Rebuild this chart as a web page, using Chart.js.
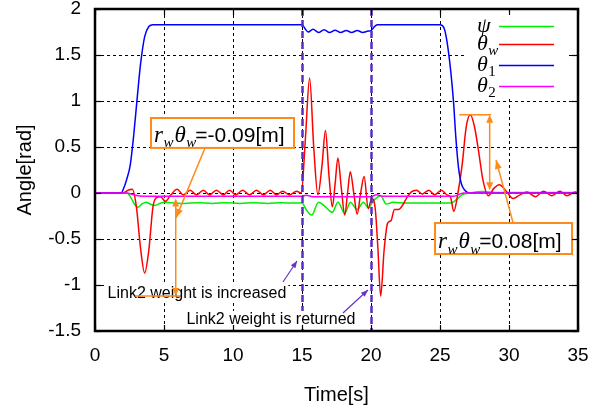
<!DOCTYPE html>
<html>
<head>
<meta charset="utf-8">
<title>Angle response</title>
<script src="https://cdn.jsdelivr.net/npm/chart.js@4.4.1/dist/chart.umd.min.js"></script>
<style>
  html, body { margin: 0; padding: 0; background: #ffffff; }
  canvas { display: block; }
</style>
</head>
<body>
<canvas id="angles" width="609" height="407"></canvas>
<script>
// ---- measured series (time in s, angle in rad) ----
const tPsi = [0, 2.3, 2.6, 2.9, 3.1, 3.4, 3.7, 4.0, 4.3, 4.7,
  5.0, 5.5, 6.5, 7.5, 8.5, 9.5, 10.5, 11.5, 12.5, 13.5,
  14.5, 15.0, 15.3, 15.7, 16.2, 16.7, 17.2, 17.6, 18.1, 18.5,
  19.0, 19.45, 19.8, 20.2, 20.7, 21.1, 21.6, 22.5, 25.8, 26.2,
  26.6, 27.2, 28.1, 29.0, 35];
const psi = [0, 0, -0.05, -0.13, -0.155, -0.12, -0.1, -0.12, -0.135, -0.115,
  -0.1, -0.105, -0.115, -0.105, -0.115, -0.105, -0.115, -0.105, -0.115, -0.105,
  -0.11, -0.11, -0.18, -0.24, -0.1, -0.15, -0.21, -0.1, -0.22, -0.1,
  -0.18, -0.1, -0.16, -0.08, -0.03, -0.12, -0.1, -0.11, -0.11, -0.07,
  -0.02, 0.0, 0.015, 0.005, 0.005];

const tThetaW = [0, 2.0, 2.4, 2.7, 3.0, 3.3, 3.6, 3.9, 4.2, 4.45,
  4.75, 5.1, 5.5, 5.95, 6.4, 6.9, 7.35, 7.85, 8.3, 8.8,
  9.3, 9.75, 10.2, 10.7, 11.2, 11.7, 12.2, 12.7, 13.15, 13.6,
  14.1, 14.6, 14.95, 15.25, 15.55, 15.85, 16.15, 16.45, 16.7, 16.95,
  17.2, 17.4, 17.6, 17.85, 18.1, 18.3, 18.5, 18.75, 19.0, 19.25,
  19.5, 19.8, 20.05, 20.3, 20.5, 20.7, 20.95, 21.2, 21.45, 21.7,
  22.0, 22.3, 22.6, 22.9, 23.3, 23.7, 24.2, 24.6, 25.1, 25.5,
  25.75, 26.0, 26.3, 26.6, 26.9, 27.2, 27.5, 27.8, 28.1, 28.5,
  28.9, 29.3, 29.8, 30.3, 30.8, 31.3, 31.9, 32.5, 33.1, 33.7,
  34.2, 34.8, 35];
const thetaW = [0, 0, 0.03, 0.04, -0.15, -0.6, -0.87, -0.62, -0.15, -0.05,
  -0.04, -0.09, -0.02, 0.04, -0.02, 0.03, -0.02, 0.03, -0.02, 0.03,
  -0.02, 0.03, -0.02, 0.03, -0.02, 0.03, -0.02, 0.03, -0.02, 0.02,
  -0.02, 0.02, 0.0, 0.6, 1.25, 0.5, -0.02, 0.3, 0.68, 0.2,
  -0.15, 0.1, 0.38, 0.05, -0.24, 0.0, 0.23, 0.0, -0.23, 0.0,
  0.18, -0.17, -0.06, -0.16, -0.6, -1.12, -0.62, -0.33, -0.3, -0.18,
  -0.18, -0.13, -0.05, 0.01, 0.03, -0.01, 0.03, -0.02, 0.03, -0.02,
  -0.04, -0.2, 0.0, 0.3, 0.72, 0.85, 0.72, 0.45, 0.15, -0.03,
  0.05, 0.09, 0.02, -0.06, -0.02, 0.01, -0.04, 0.02, -0.03, 0.02,
  -0.03, 0.01, 0.0];

const tTheta1 = [0, 1.9, 2.05, 2.3, 2.55, 2.8, 3.05, 3.3, 3.6, 3.9,
  4.2, 15.0, 15.2, 15.45, 15.8, 16.2, 16.6, 17.0, 17.4, 17.8,
  18.2, 18.6, 19.0, 19.4, 19.8, 20.0, 20.2, 20.45, 25.0, 25.3,
  25.6, 25.97, 26.15, 26.33, 26.55, 26.8, 27.1, 35];
const theta1 = [0, 0, 0.04, 0.15, 0.3, 0.62, 1.02, 1.4, 1.7, 1.81,
  1.83, 1.83, 1.79, 1.75, 1.78, 1.745, 1.775, 1.745, 1.77, 1.745,
  1.765, 1.745, 1.765, 1.745, 1.76, 1.765, 1.8, 1.83, 1.83, 1.79,
  1.55, 1.01, 0.6, 0.29, 0.1, 0.03, 0.0, 0];

const tTheta2 = [0, 2.3, 2.8, 3.5, 15.0, 15.3, 15.8, 20.0, 20.4, 20.8, 26.0, 26.7, 35];
const theta2 = [0, 0, -0.02, -0.035, -0.035, -0.025, -0.04, -0.04, -0.02, -0.035, -0.035, 0, 0];

// ---- axes ----
const xTicks = [0, 5, 10, 15, 20, 25, 30, 35];
const xTickLabels = ['0', '5', '10', '15', '20', '25', '30', '35'];
const yTicks = [-1.5, -1, -0.5, 0, 0.5, 1, 1.5, 2];
const yTickLabels = ['-1.5', '-1', '-0.5', '0', '0.5', '1', '1.5', '2'];

// times at which the link-2 weight changes
const eventTimes = [15, 20];

const SANS = '"Liberation Sans", Arial, sans-serif';
const SERIF = '"Liberation Serif", "DejaVu Serif", serif';

const COLORS = {
  psi: '#00ee00', thetaW: '#ff0000', theta1: '#0000ff', theta2: '#ff00ff',
  event: '#5a2dc0', note: '#ff8a1c', pointer: '#6a32c8'
};

// legend: symbol + subscript, colour, row position
const legendItems = [
  { sym: '\u03C8', sub: '', color: COLORS.psi, y: 26 },
  { sym: '\u03B8', sub: 'w', color: COLORS.thetaW, y: 44 },
  { sym: '\u03B8', sub: '1', color: COLORS.theta1, y: 65 },
  { sym: '\u03B8', sub: '2', color: COLORS.theta2, y: 86 }
];

// wheel travel annotations: extreme of θw and the level it is measured from
const lateWindow = tThetaW.map((t, i) => (t > 25 ? thetaW[i] : -Infinity));
const notes = [
  { value: '=-0.09[m]', box: [4.06, 14.42, 0.815, 0.49], level: Math.min(...thetaW),
    span: [2.9, 6.2], gaugeT: 5.85, base: -0.06, leader: [7.97, 0.49, 5.87, -0.27] },
  { value: '=0.08[m]', box: [24.64, 34.57, -0.326, -0.663], level: Math.max(...lateWindow),
    span: [26.4, 28.7], gaugeT: 28.6, base: 0.03, leader: [30.3, -0.326, 29.06, 0.36] }
];

const eventNotes = [
  { text: 'Link2 weight is increased', at: [7.39, -1.098], from: [13.62, -0.967], to: [14.64, -0.739] },
  { text: 'Link2 weight is returned', at: [12.75, -1.38], from: [17.97, -1.304], to: [19.78, -1.054] }
];

function toPoints(ts, vs) { return ts.map((t, i) => ({ x: t, y: vs[i] })); }

function arrowHead(ctx, x1, y1, x2, y2, len, half) {
  const a = Math.atan2(y2 - y1, x2 - x1);
  const c = Math.cos(a), s = Math.sin(a);
  ctx.beginPath();
  ctx.moveTo(x2, y2);
  ctx.lineTo(x2 - len * c + half * s, y2 - len * s - half * c);
  ctx.lineTo(x2 - len * c - half * s, y2 - len * s + half * c);
  ctx.closePath();
  ctx.fill();
}

function segment(ctx, x1, y1, x2, y2) {
  ctx.beginPath();
  ctx.moveTo(x1, y1);
  ctx.lineTo(x2, y2);
  ctx.stroke();
}

// italic symbol with a subscript; returns the x where it ends
function drawSymbol(ctx, sym, sub, x, baseline, size) {
  ctx.font = 'italic ' + size + 'px ' + SERIF;
  ctx.fillText(sym, x, baseline);
  let end = x + ctx.measureText(sym).width;
  if (sub) {
    const subSize = Math.round(size * 0.66);
    ctx.font = (/\d/.test(sub) ? '' : 'italic ') + subSize + 'px ' + SERIF;
    ctx.fillText(sub, end + 0.5, baseline + size * 0.24);
    end += 0.5 + ctx.measureText(sub).width;
  }
  return end;
}

const decorPlugin = {
  id: 'decor',
  beforeDatasetsDraw(chart) {
    const { ctx, chartArea: a, scales: { x, y } } = chart;
    ctx.save();
    ctx.strokeStyle = '#000';
    ctx.lineWidth = 1;
    ctx.setLineDash([3, 3]);
    xTicks.forEach(v => {
      if (v <= x.min || v >= x.max) return;
      const p = Math.round(x.getPixelForValue(v)) + 0.5;
      segment(ctx, p, a.top, p, a.bottom);
    });
    yTicks.forEach(v => {
      if (v <= y.min || v >= y.max) return;
      const p = Math.round(y.getPixelForValue(v)) + 0.5;
      segment(ctx, a.left, p, a.right, p);
    });
    ctx.restore();
  },
  afterDatasetsDraw(chart) {
    const { ctx, chartArea: a, scales: { x, y } } = chart;
    const px = t => x.getPixelForValue(t);
    const py = v => y.getPixelForValue(v);
    ctx.save();

    // weight-change instants
    ctx.strokeStyle = COLORS.event;
    ctx.lineWidth = 2.5;
    ctx.setLineDash([7, 4]);
    eventTimes.forEach(t => {
      const p = Math.round(px(t)) + 0.5;
      segment(ctx, p, a.top, p, a.bottom);
    });
    ctx.setLineDash([]);

    // event captions with pointers
    ctx.font = '16px ' + SANS;
    ctx.textBaseline = 'middle';
    ctx.textAlign = 'center';
    eventNotes.forEach(n => {
      const cx = px(n.at[0]), cy = py(n.at[1]);
      const w = ctx.measureText(n.text).width;
      ctx.fillStyle = '#fff';
      ctx.fillRect(cx - w / 2 - 2, cy - 9, w + 4, 18);
      ctx.fillStyle = '#000';
      ctx.fillText(n.text, cx, cy);
      ctx.strokeStyle = COLORS.pointer;
      ctx.fillStyle = COLORS.pointer;
      ctx.lineWidth = 1.2;
      const x1 = px(n.from[0]), y1 = py(n.from[1]), x2 = px(n.to[0]), y2 = py(n.to[1]);
      segment(ctx, x1, y1, x2, y2);
      arrowHead(ctx, x1, y1, x2, y2, 7, 2.8);
    });

    // travel annotations
    notes.forEach(n => {
      ctx.strokeStyle = COLORS.note;
      ctx.fillStyle = COLORS.note;
      ctx.lineWidth = 1.5;
      const lv = py(n.level), bs = py(n.base), gx = px(n.gaugeT);
      segment(ctx, px(n.span[0]), lv, px(n.span[1]), lv);
      const dir = Math.sign(bs - lv);
      segment(ctx, gx, lv + dir * 6, gx, bs - dir * 6);
      arrowHead(ctx, gx, bs, gx, lv, 8, 3.5);
      arrowHead(ctx, gx, lv, gx, bs, 8, 3.5);
      const [lx1, ly1, lx2, ly2] = n.leader;
      const ax1 = px(lx1), ay1 = py(ly1), ax2 = px(lx2), ay2 = py(ly2);
      segment(ctx, ax1, ay1, ax2, ay2);
      arrowHead(ctx, ax1, ay1, ax2, ay2, 9, 3.5);

      const bx1 = px(n.box[0]), bx2 = px(n.box[1]), by1 = py(n.box[2]), by2 = py(n.box[3]);
      ctx.fillStyle = '#fff';
      ctx.fillRect(bx1, by1, bx2 - bx1, by2 - by1);
      ctx.lineWidth = 2;
      ctx.strokeRect(bx1, by1, bx2 - bx1, by2 - by1);
      ctx.fillStyle = '#000';
      ctx.textAlign = 'left';
      ctx.textBaseline = 'alphabetic';
      const base = by2 - 6;
      let cx = drawSymbol(ctx, 'r', 'w', bx1 + 3, base, 23);
      cx = drawSymbol(ctx, '\u03B8', 'w', cx + 1, base, 23);
      ctx.font = '21px ' + SANS;
      ctx.fillText(n.value, cx - 1, base);
    });

    // legend
    const lg = { left: 465, right: 567, top: 13, bottom: 97 };
    ctx.fillStyle = '#fff';
    ctx.fillRect(lg.left, lg.top, lg.right - lg.left, lg.bottom - lg.top);
    legendItems.forEach(it => {
      ctx.fillStyle = '#000';
      ctx.textAlign = 'left';
      ctx.textBaseline = 'alphabetic';
      drawSymbol(ctx, it.sym, it.sub, 477, it.y + 6, 22);
      ctx.strokeStyle = it.color;
      ctx.lineWidth = 1.5;
      segment(ctx, 499, it.y + 0.5, 554, it.y + 0.5);
    });

    // frame with inward ticks
    ctx.strokeStyle = '#000';
    ctx.lineWidth = 1.2;
    xTicks.forEach(v => {
      const p = Math.round(px(v)) + 0.5;
      segment(ctx, p, a.bottom, p, a.bottom - 6);
      segment(ctx, p, a.top, p, a.top + 6);
    });
    yTicks.forEach(v => {
      const p = Math.round(py(v)) + 0.5;
      segment(ctx, a.left, p, a.left + 6, p);
      segment(ctx, a.right, p, a.right - 6, p);
    });
    ctx.lineWidth = 2.5;
    ctx.strokeRect(a.left, a.top, a.right - a.left, a.bottom - a.top);
    ctx.restore();
  }
};

const lineStyle = { borderWidth: 1.5, pointRadius: 0, fill: false, cubicInterpolationMode: 'monotone' };

new Chart(document.getElementById('angles'), {
  type: 'line',
  data: {
    datasets: [
      Object.assign({ label: 'psi', data: toPoints(tPsi, psi), borderColor: COLORS.psi, order: 4 }, lineStyle),
      Object.assign({ label: 'theta_w', data: toPoints(tThetaW, thetaW), borderColor: COLORS.thetaW, order: 3 }, lineStyle),
      Object.assign({ label: 'theta_1', data: toPoints(tTheta1, theta1), borderColor: COLORS.theta1, order: 2 }, lineStyle),
      Object.assign({ label: 'theta_2', data: toPoints(tTheta2, theta2), borderColor: COLORS.theta2, order: 1 }, lineStyle)
    ]
  },
  options: {
    responsive: false,
    devicePixelRatio: 1,
    animation: false,
    events: [],
    layout: { padding: { left: 0, right: 31, top: 9, bottom: 0 } },
    plugins: { legend: { display: false }, tooltip: { enabled: false } },
    scales: {
      x: {
        type: 'linear', min: 0, max: 35,
        afterBuildTicks: s => { s.ticks = xTicks.map(v => ({ value: v })); },
        afterFit: s => { s.height = 76; s.paddingLeft = 0; s.paddingRight = 0; },
        grid: { display: false, drawTicks: false },
        border: { display: false },
        ticks: {
          padding: 13, color: '#000', maxRotation: 0, autoSkip: false,
          font: { family: SANS, size: 19 },
          callback: v => xTickLabels[xTicks.indexOf(v)]
        },
        title: { display: true, text: 'Time[s]', color: '#000', font: { family: SANS, size: 20 }, padding: { top: 0, bottom: 0 } }
      },
      y: {
        type: 'linear', min: -1.5, max: 2,
        afterBuildTicks: s => { s.ticks = yTicks.map(v => ({ value: v })); },
        afterFit: s => { s.width = 95; s.paddingTop = 0; s.paddingBottom = 0; },
        grid: { display: false, drawTicks: false },
        border: { display: false },
        ticks: {
          padding: 14, color: '#000', autoSkip: false,
          font: { family: SANS, size: 19 },
          callback: v => yTickLabels[yTicks.indexOf(v)]
        },
        title: { display: true, text: 'Angle[rad]', color: '#000', font: { family: SANS, size: 20 }, padding: { top: 13, bottom: 0 } }
      }
    }
  },
  plugins: [decorPlugin]
});
</script>
</body>
</html>
